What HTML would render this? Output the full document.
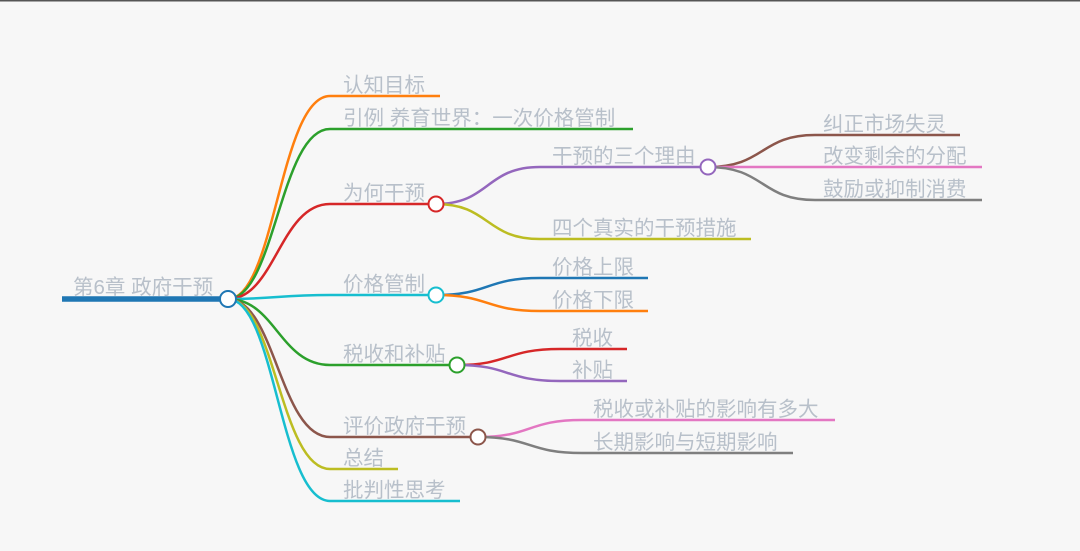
<!DOCTYPE html>
<html><head><meta charset="utf-8"><style>
html,body{margin:0;padding:0;background:#f7f7f7;}
svg{display:block;}
text{font-family:"Liberation Sans","Noto Sans CJK SC",sans-serif;font-size:20.5px;fill:#b8c0ca;}
path{fill:none;stroke-width:2.5;}
circle{fill:#fff;stroke-width:2;}
</style></head><body>
<svg width="1080" height="551" viewBox="0 0 1080 551" xmlns="http://www.w3.org/2000/svg">
<rect x="0" y="0" width="1080" height="551" fill="#f7f7f7"/>
<rect x="0" y="0" width="1080" height="1.5" fill="#555"/>
<path d="M228 299 C275 299 280 96 330 96 L440 96" stroke="#ff7f0e"/>
<path d="M228 299 C275 299 280 129 330 129 L633 129" stroke="#2ca02c"/>
<path d="M228 299 C275 299 280 204 330 204 L436 204" stroke="#d62728"/>
<path d="M228 299 C275 299 280 295 330 295 L436 295" stroke="#17becf"/>
<path d="M228 299 C275 299 280 365 330 365 L457 365" stroke="#2ca02c"/>
<path d="M228 299 C275 299 280 437 330 437 L478 437" stroke="#8c564b"/>
<path d="M228 299 C275 299 280 469 330 469 L398 469" stroke="#bcbd22"/>
<path d="M228 299 C275 299 280 501 330 501 L460 501" stroke="#17becf"/>
<path d="M62 299 L228 299" stroke="#1f77b4" style="stroke-width:5.5"/>
<path d="M436 204 C490 204 485 167 540 167 L708 167" stroke="#9467bd"/>
<path d="M436 204 C490 204 485 239 540 239 L751 239" stroke="#bcbd22"/>
<path d="M708 167 C765 167 760 135 815 135 L960 135" stroke="#8c564b"/>
<path d="M708 167 L982 167" stroke="#e377c2"/>
<path d="M708 167 C765 167 760 200 815 200 L982 200" stroke="#7f7f7f"/>
<path d="M436 295 C490 295 485 278 540 278 L648 278" stroke="#1f77b4"/>
<path d="M436 295 C490 295 485 311 540 311 L648 311" stroke="#ff7f0e"/>
<path d="M457 365 C510 365 505 349 560 349 L627 349" stroke="#d62728"/>
<path d="M457 365 C510 365 505 381 560 381 L627 381" stroke="#9467bd"/>
<path d="M478 437 C532 437 527 420 582 420 L835 420" stroke="#e377c2"/>
<path d="M478 437 C532 437 527 453 582 453 L793 453" stroke="#7f7f7f"/>
<circle cx="228" cy="299" r="8" stroke="#1f77b4"/>
<circle cx="436" cy="204" r="7.5" stroke="#d62728"/>
<circle cx="708" cy="167" r="7.5" stroke="#9467bd"/>
<circle cx="436" cy="295" r="7.5" stroke="#17becf"/>
<circle cx="457" cy="365" r="7.5" stroke="#2ca02c"/>
<circle cx="478" cy="437" r="7.5" stroke="#8c564b"/>
<text x="73" y="294">第6章 政府干预</text>
<text x="343" y="92">认知目标</text>
<text x="343" y="125">引例 养育世界：一次价格管制</text>
<text x="343" y="200">为何干预</text>
<text x="343" y="291">价格管制</text>
<text x="343" y="361">税收和补贴</text>
<text x="343" y="433">评价政府干预</text>
<text x="343" y="465">总结</text>
<text x="343" y="497">批判性思考</text>
<text x="552" y="163">干预的三个理由</text>
<text x="552" y="235">四个真实的干预措施</text>
<text x="823" y="131">纠正市场失灵</text>
<text x="823" y="163">改变剩余的分配</text>
<text x="823" y="196">鼓励或抑制消费</text>
<text x="552" y="274">价格上限</text>
<text x="552" y="307">价格下限</text>
<text x="572" y="345">税收</text>
<text x="572" y="377">补贴</text>
<text x="593" y="416">税收或补贴的影响有多大</text>
<text x="593" y="449">长期影响与短期影响</text>
</svg>
</body></html>
